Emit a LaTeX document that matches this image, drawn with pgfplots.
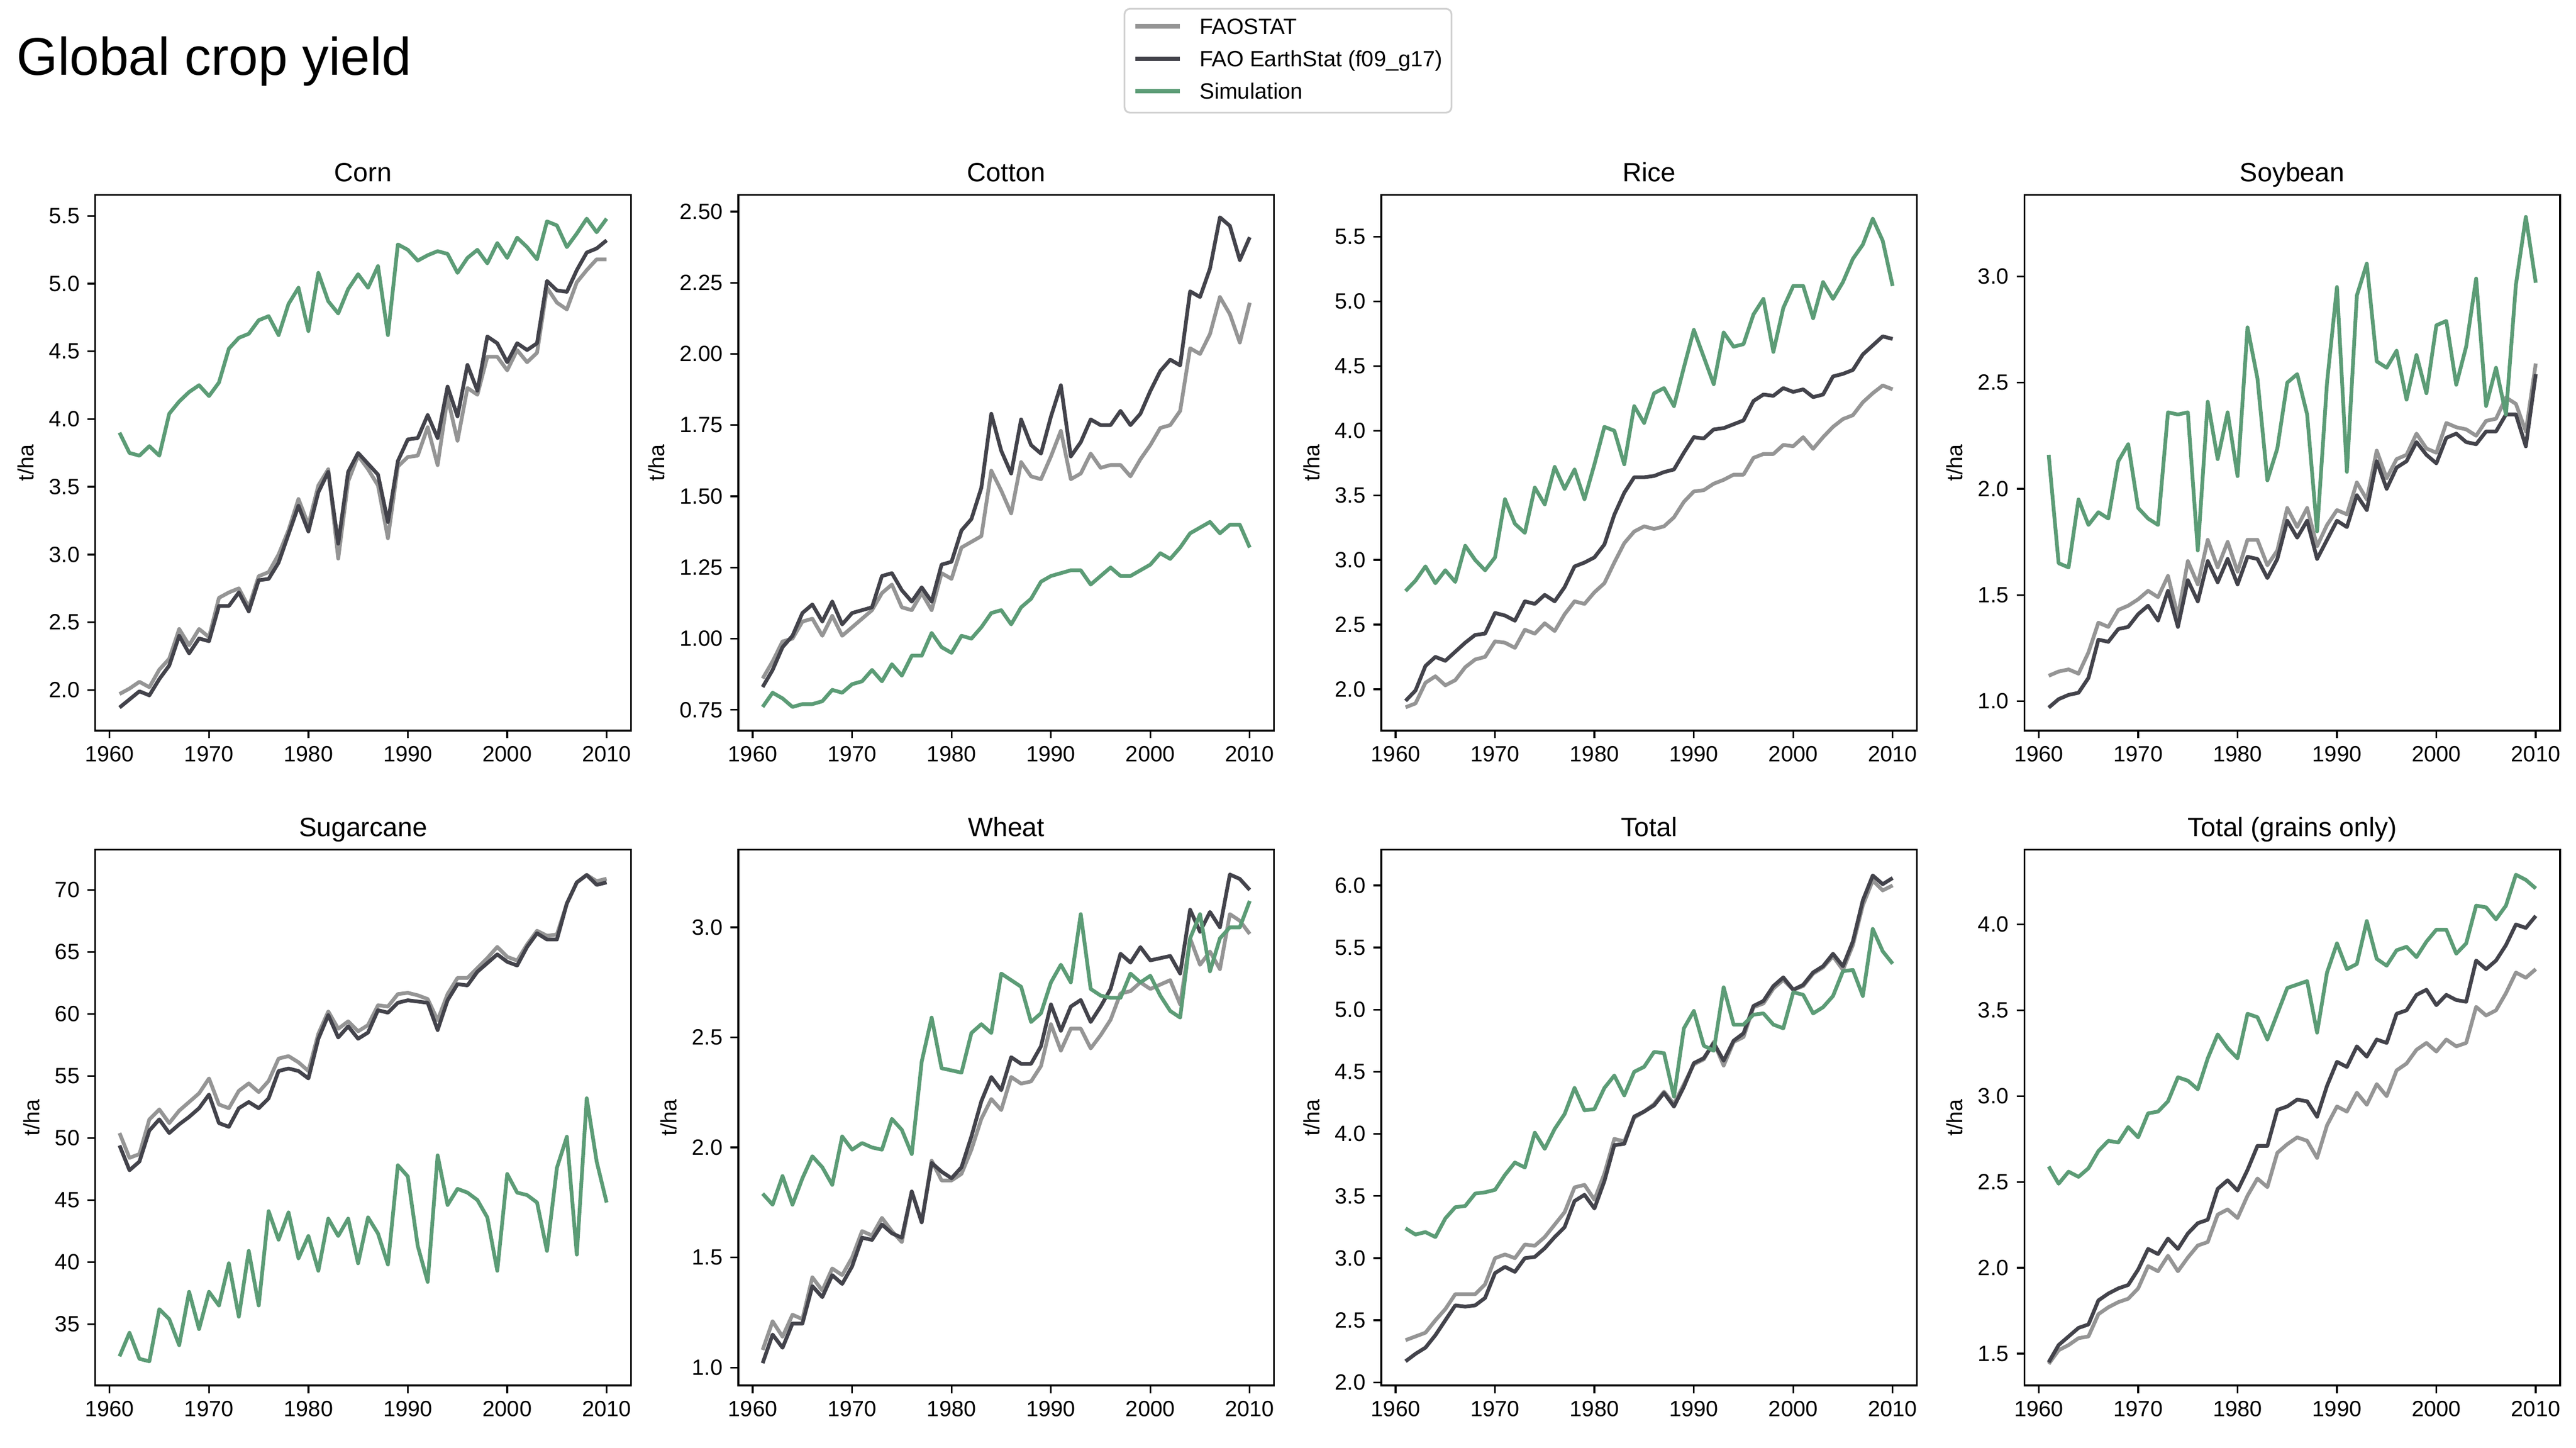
\documentclass[border=0pt]{standalone}
\usepackage{fontspec}
\setmainfont{Liberation Sans}
\usepackage{pgfplots}
\usepackage{pgfplotstable}
\pgfplotsset{compat=1.18}

\definecolor{faogray}{HTML}{959595}
\definecolor{earthdark}{HTML}{43434B}
\definecolor{simgreen}{HTML}{5C9C76}

% year, FAOSTAT, FAO EarthStat, Simulation (t/ha)
\pgfplotstableread{
year fao earth sim
1961 1.97 1.87 3.90
1962 2.01 1.93 3.75
1963 2.06 1.99 3.73
1964 2.02 1.96 3.80
1965 2.15 2.08 3.73
1966 2.23 2.18 4.04
1967 2.45 2.40 4.13
1968 2.33 2.27 4.20
1969 2.45 2.38 4.25
1970 2.39 2.36 4.17
1971 2.68 2.62 4.27
1972 2.72 2.62 4.52
1973 2.75 2.72 4.60
1974 2.61 2.58 4.63
1975 2.84 2.81 4.73
1976 2.87 2.82 4.76
1977 3.00 2.94 4.62
1978 3.18 3.15 4.85
1979 3.41 3.36 4.97
1980 3.22 3.17 4.65
1981 3.51 3.46 5.08
1982 3.63 3.61 4.87
1983 2.97 3.08 4.78
1984 3.54 3.61 4.96
1985 3.73 3.75 5.07
1986 3.63 3.67 4.97
1987 3.51 3.59 5.13
1988 3.12 3.24 4.62
1989 3.65 3.69 5.29
1990 3.72 3.85 5.25
1991 3.73 3.86 5.17
1992 3.94 4.03 5.21
1993 3.66 3.86 5.24
1994 4.16 4.24 5.22
1995 3.84 4.02 5.08
1996 4.23 4.40 5.19
1997 4.18 4.21 5.25
1998 4.46 4.61 5.15
1999 4.46 4.56 5.30
2000 4.36 4.42 5.19
2001 4.51 4.56 5.34
2002 4.42 4.51 5.27
2003 4.49 4.56 5.18
2004 4.97 5.02 5.46
2005 4.86 4.95 5.43
2006 4.81 4.94 5.27
2007 5.01 5.10 5.37
2008 5.10 5.23 5.48
2009 5.18 5.26 5.38
2010 5.18 5.32 5.48
}\corn

\pgfplotstableread{
year fao earth sim
1961 0.86 0.83 0.76
1962 0.92 0.89 0.81
1963 0.99 0.97 0.79
1964 1.00 1.01 0.76
1965 1.06 1.09 0.77
1966 1.07 1.12 0.77
1967 1.01 1.06 0.78
1968 1.08 1.13 0.82
1969 1.01 1.05 0.81
1970 1.04 1.09 0.84
1971 1.07 1.10 0.85
1972 1.10 1.11 0.89
1973 1.16 1.22 0.85
1974 1.19 1.23 0.91
1975 1.11 1.17 0.87
1976 1.10 1.13 0.94
1977 1.16 1.18 0.94
1978 1.10 1.13 1.02
1979 1.23 1.26 0.97
1980 1.21 1.27 0.95
1981 1.32 1.38 1.01
1982 1.34 1.42 1.00
1983 1.36 1.53 1.04
1984 1.59 1.79 1.09
1985 1.52 1.66 1.10
1986 1.44 1.58 1.05
1987 1.62 1.77 1.11
1988 1.57 1.68 1.14
1989 1.56 1.65 1.20
1990 1.64 1.78 1.22
1991 1.73 1.89 1.23
1992 1.56 1.64 1.24
1993 1.58 1.69 1.24
1994 1.65 1.77 1.19
1995 1.60 1.75 1.22
1996 1.61 1.75 1.25
1997 1.61 1.80 1.22
1998 1.57 1.75 1.22
1999 1.63 1.79 1.24
2000 1.68 1.87 1.26
2001 1.74 1.94 1.30
2002 1.75 1.98 1.28
2003 1.80 1.96 1.32
2004 2.02 2.22 1.37
2005 2.00 2.20 1.39
2006 2.07 2.30 1.41
2007 2.20 2.48 1.37
2008 2.14 2.45 1.40
2009 2.04 2.33 1.40
2010 2.18 2.41 1.32
}\cotton

\pgfplotstableread{
year fao earth sim
1961 1.86 1.91 2.76
1962 1.89 1.99 2.84
1963 2.05 2.18 2.95
1964 2.10 2.25 2.82
1965 2.03 2.22 2.92
1966 2.07 2.29 2.83
1967 2.17 2.36 3.11
1968 2.23 2.42 3.00
1969 2.25 2.43 2.92
1970 2.37 2.59 3.02
1971 2.36 2.57 3.47
1972 2.32 2.53 3.28
1973 2.46 2.68 3.21
1974 2.43 2.66 3.56
1975 2.51 2.73 3.43
1976 2.45 2.68 3.72
1977 2.58 2.79 3.55
1978 2.68 2.95 3.70
1979 2.66 2.98 3.47
1980 2.75 3.02 3.74
1981 2.82 3.12 4.03
1982 2.98 3.35 4.00
1983 3.13 3.52 3.74
1984 3.22 3.64 4.19
1985 3.26 3.64 4.06
1986 3.24 3.65 4.29
1987 3.26 3.68 4.33
1988 3.33 3.70 4.19
1989 3.45 3.83 4.49
1990 3.53 3.95 4.78
1991 3.54 3.94 4.57
1992 3.59 4.01 4.36
1993 3.62 4.02 4.76
1994 3.66 4.05 4.65
1995 3.66 4.08 4.67
1996 3.79 4.23 4.90
1997 3.82 4.28 5.02
1998 3.82 4.27 4.61
1999 3.89 4.33 4.95
2000 3.88 4.30 5.12
2001 3.95 4.32 5.12
2002 3.86 4.26 4.87
2003 3.95 4.28 5.15
2004 4.03 4.42 5.02
2005 4.09 4.44 5.15
2006 4.12 4.47 5.33
2007 4.22 4.59 5.44
2008 4.29 4.66 5.64
2009 4.35 4.73 5.47
2010 4.32 4.71 5.12
}\rice

\pgfplotstableread{
year fao earth sim
1961 1.12 0.97 2.16
1962 1.14 1.01 1.65
1963 1.15 1.03 1.63
1964 1.13 1.04 1.95
1965 1.23 1.11 1.83
1966 1.37 1.29 1.89
1967 1.35 1.28 1.86
1968 1.43 1.34 2.13
1969 1.45 1.35 2.21
1970 1.48 1.41 1.91
1971 1.52 1.45 1.86
1972 1.49 1.38 1.83
1973 1.59 1.52 2.36
1974 1.40 1.35 2.35
1975 1.66 1.57 2.36
1976 1.55 1.47 1.71
1977 1.76 1.66 2.41
1978 1.63 1.56 2.14
1979 1.75 1.67 2.36
1980 1.61 1.55 2.06
1981 1.76 1.68 2.76
1982 1.76 1.67 2.52
1983 1.64 1.58 2.04
1984 1.71 1.67 2.19
1985 1.91 1.85 2.50
1986 1.82 1.77 2.54
1987 1.91 1.85 2.35
1988 1.73 1.67 1.80
1989 1.83 1.76 2.50
1990 1.90 1.85 2.95
1991 1.88 1.82 2.08
1992 2.03 1.97 2.91
1993 1.95 1.90 3.06
1994 2.18 2.13 2.60
1995 2.05 2.00 2.57
1996 2.14 2.10 2.65
1997 2.16 2.13 2.42
1998 2.26 2.22 2.63
1999 2.19 2.16 2.45
2000 2.17 2.12 2.77
2001 2.31 2.24 2.79
2002 2.29 2.26 2.49
2003 2.28 2.22 2.67
2004 2.25 2.21 2.99
2005 2.32 2.27 2.39
2006 2.33 2.27 2.57
2007 2.43 2.35 2.35
2008 2.40 2.35 2.96
2009 2.27 2.20 3.28
2010 2.59 2.54 2.97
}\soybean

\pgfplotstableread{
year fao earth sim
1961 50.4 49.4 32.4
1962 48.4 47.4 34.3
1963 48.7 48.1 32.2
1964 51.5 50.6 32.0
1965 52.3 51.5 36.2
1966 51.2 50.4 35.4
1967 52.2 51.1 33.3
1968 52.9 51.7 37.6
1969 53.6 52.4 34.6
1970 54.8 53.5 37.6
1971 52.7 51.2 36.5
1972 52.4 50.9 39.9
1973 53.8 52.4 35.6
1974 54.4 52.9 40.9
1975 53.7 52.4 36.5
1976 54.6 53.2 44.1
1977 56.4 55.4 41.8
1978 56.6 55.6 44.0
1979 56.1 55.4 40.3
1980 55.4 54.8 42.1
1981 58.4 58.0 39.3
1982 60.2 59.9 43.5
1983 58.8 58.1 42.1
1984 59.4 59.0 43.5
1985 58.6 58.0 39.9
1986 59.1 58.5 43.6
1987 60.7 60.3 42.3
1988 60.6 60.1 39.8
1989 61.6 60.9 47.8
1990 61.7 61.1 46.9
1991 61.5 61.0 41.3
1992 61.2 60.9 38.4
1993 59.5 58.7 48.6
1994 61.6 61.1 44.6
1995 62.9 62.4 45.9
1996 62.9 62.3 45.6
1997 63.7 63.4 45.0
1998 64.5 64.1 43.6
1999 65.4 64.8 39.3
2000 64.6 64.2 47.1
2001 64.3 63.9 45.6
2002 65.6 65.4 45.4
2003 66.7 66.5 44.8
2004 66.3 66.0 40.9
2005 66.4 66.0 47.6
2006 68.9 68.9 50.1
2007 70.6 70.6 40.6
2008 71.2 71.2 53.2
2009 70.7 70.4 48.1
2010 70.9 70.6 44.8
}\sugarcane

\pgfplotstableread{
year fao earth sim
1961 1.08 1.02 1.79
1962 1.21 1.15 1.74
1963 1.14 1.09 1.87
1964 1.24 1.20 1.74
1965 1.22 1.20 1.86
1966 1.41 1.37 1.96
1967 1.35 1.32 1.91
1968 1.45 1.42 1.83
1969 1.42 1.38 2.05
1970 1.50 1.46 1.99
1971 1.62 1.59 2.02
1972 1.60 1.58 2.00
1973 1.68 1.65 1.99
1974 1.62 1.61 2.13
1975 1.57 1.59 2.08
1976 1.80 1.80 1.97
1977 1.66 1.66 2.39
1978 1.94 1.93 2.59
1979 1.85 1.89 2.36
1980 1.85 1.86 2.35
1981 1.88 1.91 2.34
1982 1.99 2.05 2.52
1983 2.13 2.21 2.56
1984 2.22 2.32 2.52
1985 2.17 2.26 2.79
1986 2.32 2.41 2.76
1987 2.29 2.38 2.73
1988 2.30 2.38 2.57
1989 2.37 2.46 2.61
1990 2.56 2.65 2.75
1991 2.44 2.53 2.83
1992 2.54 2.64 2.75
1993 2.54 2.67 3.06
1994 2.45 2.57 2.72
1995 2.51 2.64 2.69
1996 2.58 2.72 2.68
1997 2.70 2.88 2.68
1998 2.71 2.84 2.79
1999 2.75 2.91 2.75
2000 2.72 2.85 2.78
2001 2.74 2.86 2.69
2002 2.76 2.87 2.62
2003 2.65 2.79 2.59
2004 2.95 3.08 2.95
2005 2.83 2.98 3.06
2006 2.89 3.07 2.80
2007 2.81 3.00 2.95
2008 3.06 3.24 3.00
2009 3.03 3.22 3.00
2010 2.97 3.17 3.12
}\wheat

\pgfplotstableread{
year fao earth sim
1961 2.34 2.17 3.24
1962 2.37 2.23 3.19
1963 2.40 2.28 3.21
1964 2.50 2.38 3.17
1965 2.59 2.50 3.32
1966 2.71 2.62 3.41
1967 2.71 2.61 3.42
1968 2.71 2.62 3.52
1969 2.79 2.68 3.53
1970 3.00 2.88 3.55
1971 3.03 2.93 3.67
1972 3.00 2.89 3.77
1973 3.11 3.00 3.73
1974 3.10 3.01 4.01
1975 3.17 3.08 3.88
1976 3.27 3.17 4.04
1977 3.37 3.25 4.16
1978 3.57 3.46 4.37
1979 3.59 3.51 4.19
1980 3.47 3.40 4.20
1981 3.68 3.62 4.37
1982 3.96 3.91 4.47
1983 3.94 3.92 4.31
1984 4.13 4.14 4.50
1985 4.18 4.18 4.54
1986 4.24 4.23 4.66
1987 4.34 4.33 4.65
1988 4.24 4.22 4.30
1989 4.40 4.38 4.85
1990 4.56 4.57 4.99
1991 4.60 4.61 4.71
1992 4.74 4.73 4.67
1993 4.55 4.59 5.18
1994 4.74 4.75 4.88
1995 4.78 4.81 4.88
1996 5.02 5.03 4.96
1997 5.05 5.07 4.97
1998 5.17 5.19 4.88
1999 5.24 5.26 4.85
2000 5.16 5.16 5.14
2001 5.19 5.20 5.12
2002 5.29 5.30 4.97
2003 5.34 5.35 5.02
2004 5.43 5.45 5.11
2005 5.32 5.35 5.31
2006 5.52 5.55 5.32
2007 5.84 5.88 5.11
2008 6.04 6.08 5.65
2009 5.96 6.01 5.47
2010 6.00 6.06 5.37
}\total

\pgfplotstableread{
year fao earth sim
1961 1.44 1.45 2.59
1962 1.52 1.55 2.49
1963 1.55 1.60 2.56
1964 1.59 1.65 2.53
1965 1.60 1.67 2.58
1966 1.73 1.81 2.68
1967 1.77 1.85 2.74
1968 1.80 1.88 2.73
1969 1.82 1.90 2.82
1970 1.88 1.99 2.76
1971 2.01 2.11 2.90
1972 1.98 2.08 2.91
1973 2.07 2.17 2.97
1974 1.98 2.11 3.11
1975 2.06 2.20 3.09
1976 2.13 2.26 3.04
1977 2.15 2.28 3.22
1978 2.31 2.46 3.36
1979 2.34 2.51 3.28
1980 2.29 2.45 3.22
1981 2.42 2.57 3.48
1982 2.52 2.71 3.46
1983 2.47 2.71 3.33
1984 2.67 2.92 3.48
1985 2.72 2.94 3.63
1986 2.76 2.98 3.65
1987 2.74 2.97 3.67
1988 2.64 2.88 3.37
1989 2.83 3.06 3.72
1990 2.94 3.20 3.89
1991 2.91 3.17 3.74
1992 3.02 3.29 3.77
1993 2.95 3.23 4.02
1994 3.07 3.33 3.80
1995 3.00 3.31 3.76
1996 3.15 3.48 3.85
1997 3.19 3.50 3.87
1998 3.27 3.59 3.81
1999 3.31 3.62 3.90
2000 3.26 3.53 3.97
2001 3.33 3.59 3.97
2002 3.29 3.56 3.83
2003 3.31 3.55 3.89
2004 3.52 3.79 4.11
2005 3.47 3.74 4.10
2006 3.50 3.79 4.03
2007 3.60 3.88 4.11
2008 3.72 4.00 4.29
2009 3.69 3.98 4.26
2010 3.74 4.05 4.21
}\grains

\pgfplotsset{
  /pgf/number format/assume math mode=true,
  panel/.style={
    scale only axis, width=242.6pt, height=242.5pt,
    xmin=1958.55, xmax=2012.45,
    xtick={1960,1970,1980,1990,2000,2010},
    xticklabel style={/pgf/number format/1000 sep={}},
    tick align=outside, tick pos=left,
    major tick length=3.5pt,
    every tick/.style={black, line width=0.8pt},
    axis line style={line width=0.8pt},
    tick label style={font=\fontsize{10}{12}\selectfont},
    scaled y ticks=false,
    ylabel={t/ha},
    ylabel style={font=\fontsize{10}{12}\selectfont},
    title style={font=\fontsize{12}{14.4}\selectfont, anchor=base},
  },
  prec1/.style={yticklabel style={/pgf/number format/.cd, fixed, fixed zerofill, precision=1}},
  prec2/.style={yticklabel style={/pgf/number format/.cd, fixed, fixed zerofill, precision=2}},
  fao/.style={faogray, line width=1.7pt, line join=round},
  earth/.style={earthdark, line width=1.7pt, line join=round},
  sim/.style={simgreen, line width=1.7pt, line join=round},
}

\begin{document}
\begin{tikzpicture}
\path[use as bounding box] (0,0) rectangle (1166.4pt,655.4pt);
\node[anchor=base west, inner sep=0pt, font=\fontsize{24}{28}\selectfont] at (7.4pt,621.4pt) {Global crop yield};

% top row
\begin{axis}[panel, prec1, at={(43.1pt,324.7pt)}, anchor=south west, title={Corn},
  ymin=1.70, ymax=5.656, ytick={2.0,2.5,3.0,3.5,4.0,4.5,5.0,5.5},
  legend cell align=left,
  legend image code/.code={\draw[#1, line width=2pt] (0pt,0.9pt) -- (20pt,0.9pt);},
  legend style={at={(2.2263,1.3489)}, anchor=north, draw=black!18, line width=0.8pt,
    rounded corners=2.5pt, inner xsep=4pt, inner ysep=4pt,
    font=\fontsize{10}{12}\selectfont, row sep=5pt,
    nodes={inner sep=0pt, text height=7.5pt, text depth=2.17pt},
    /tikz/every odd column/.append style={column sep=8pt}}]
\addplot[fao] table[x=year, y=fao] {\corn};
\addlegendentry{FAOSTAT}
\addplot[earth] table[x=year, y=earth] {\corn};
\addlegendentry{FAO EarthStat (f09\_g17)}
\addplot[sim] table[x=year, y=sim] {\corn};
\addlegendentry{Simulation}
\end{axis}

\begin{axis}[panel, prec2, at={(334.3pt,324.7pt)}, anchor=south west, title={Cotton},
  ymin=0.677, ymax=2.559, ytick={0.75,1.00,1.25,1.50,1.75,2.00,2.25,2.50}]
\addplot[fao] table[x=year, y=fao] {\cotton};
\addplot[earth] table[x=year, y=earth] {\cotton};
\addplot[sim] table[x=year, y=sim] {\cotton};
\end{axis}

\begin{axis}[panel, prec1, at={(625.4pt,324.7pt)}, anchor=south west, title={Rice},
  ymin=1.680, ymax=5.825, ytick={2.0,2.5,3.0,3.5,4.0,4.5,5.0,5.5}]
\addplot[fao] table[x=year, y=fao] {\rice};
\addplot[earth] table[x=year, y=earth] {\rice};
\addplot[sim] table[x=year, y=sim] {\rice};
\end{axis}

\begin{axis}[panel, prec1, at={(916.6pt,324.7pt)}, anchor=south west, title={Soybean},
  ymin=0.862, ymax=3.384, ytick={1.0,1.5,2.0,2.5,3.0}]
\addplot[fao] table[x=year, y=fao] {\soybean};
\addplot[earth] table[x=year, y=earth] {\soybean};
\addplot[sim] table[x=year, y=sim] {\soybean};
\end{axis}

% bottom row
\begin{axis}[panel, at={(43.1pt,28.3pt)}, anchor=south west, title={Sugarcane},
  ymin=30.06, ymax=73.24, ytick={30,35,40,45,50,55,60,65,70}]
\addplot[fao] table[x=year, y=fao] {\sugarcane};
\addplot[earth] table[x=year, y=earth] {\sugarcane};
\addplot[sim] table[x=year, y=sim] {\sugarcane};
\end{axis}

\begin{axis}[panel, prec1, at={(334.3pt,28.3pt)}, anchor=south west, title={Wheat},
  ymin=0.919, ymax=3.353, ytick={1.0,1.5,2.0,2.5,3.0}]
\addplot[fao] table[x=year, y=fao] {\wheat};
\addplot[earth] table[x=year, y=earth] {\wheat};
\addplot[sim] table[x=year, y=sim] {\wheat};
\end{axis}

\begin{axis}[panel, prec1, at={(625.4pt,28.3pt)}, anchor=south west, title={Total},
  ymin=1.976, ymax=6.288, ytick={2.0,2.5,3.0,3.5,4.0,4.5,5.0,5.5,6.0}]
\addplot[fao] table[x=year, y=fao] {\total};
\addplot[earth] table[x=year, y=earth] {\total};
\addplot[sim] table[x=year, y=sim] {\total};
\end{axis}

\begin{axis}[panel, prec1, at={(916.6pt,28.3pt)}, anchor=south west, title={Total (grains only)},
  ymin=1.315, ymax=4.436, ytick={1.5,2.0,2.5,3.0,3.5,4.0}]
\addplot[fao] table[x=year, y=fao] {\grains};
\addplot[earth] table[x=year, y=earth] {\grains};
\addplot[sim] table[x=year, y=sim] {\grains};
\end{axis}
\end{tikzpicture}
\end{document}
